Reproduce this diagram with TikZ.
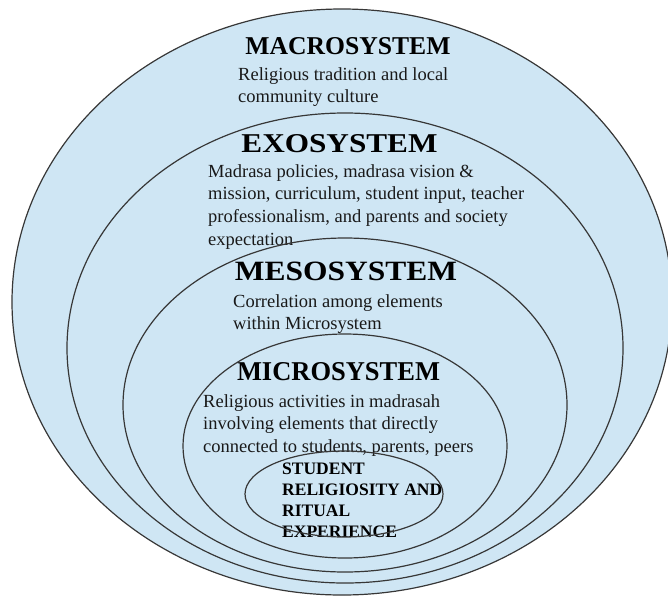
\documentclass[tikz,border=0pt]{standalone}
\usepackage{fontspec}
\usepackage{graphicx}
\setmainfont{Liberation Serif}
\usetikzlibrary{shapes.geometric}
\definecolor{sysfill}{RGB}{207,230,244}
\definecolor{sysline}{RGB}{55,55,55}
\definecolor{systext}{RGB}{25,25,25}
\begin{document}
\begin{tikzpicture}[x=1pt,y=-1pt,
  ring/.style={ellipse, draw=sysline, line width=1.2pt, inner sep=0pt},
  title/.style={inner sep=0pt, font=\bfseries, text=black},
  body/.style={inner sep=0pt, anchor=north west, align=left, text=systext,
    font=\fontsize{18.5}{22.7}\selectfont},
  core/.style={inner sep=0pt, anchor=north west, align=left, text=black,
    font=\bfseries\fontsize{17.5}{21}\selectfont}]
\useasboundingbox (0,0) rectangle (668,598);
\node[ring, fill=sysfill, minimum width=660pt, minimum height=586pt] (macro) at (342,302) {};
% texts
\node[title] (macrot) at (348,46.5) {\resizebox{205pt}{17pt}{MACROSYSTEM}};
\node[body] (macrob) at (238,67) {Religious tradition and local\\community culture};
\node[title] (exot) at (339.5,144) {\resizebox{196pt}{18pt}{EXOSYSTEM}};
\node[body] (exob) at (208,164) {Madrasa policies, madrasa vision \&\\mission, curriculum, student input, teacher\\professionalism, and parents and society\\expectation};
\node[title] (mesot) at (346,271) {\resizebox{222pt}{18.5pt}{MESOSYSTEM}};
\node[body] (mesob) at (233,294) {Correlation among elements\\within Microsystem};
\node[title] (microt) at (338.5,372) {\resizebox{203pt}{18pt}{MICROSYSTEM}};
\node[body] (microb) at (203,394) {Religious activities in madrasah\\involving elements that directly\\connected to students, parents, peers};
\node[core] (coret) at (282,463) {STUDENT\\RELIGIOSITY AND\\RITUAL\\EXPERIENCE};
% inner rings
\node[ring, minimum width=556pt, minimum height=470pt] (exo) at (345,348) {};
\node[ring, minimum width=444pt, minimum height=334pt] (meso) at (345,405) {};
\node[ring, minimum width=324pt, minimum height=224pt] (micro) at (345,446) {};
\node[ring, minimum width=198pt, minimum height=86pt] (inner) at (344,494) {};
\end{tikzpicture}
\end{document}
